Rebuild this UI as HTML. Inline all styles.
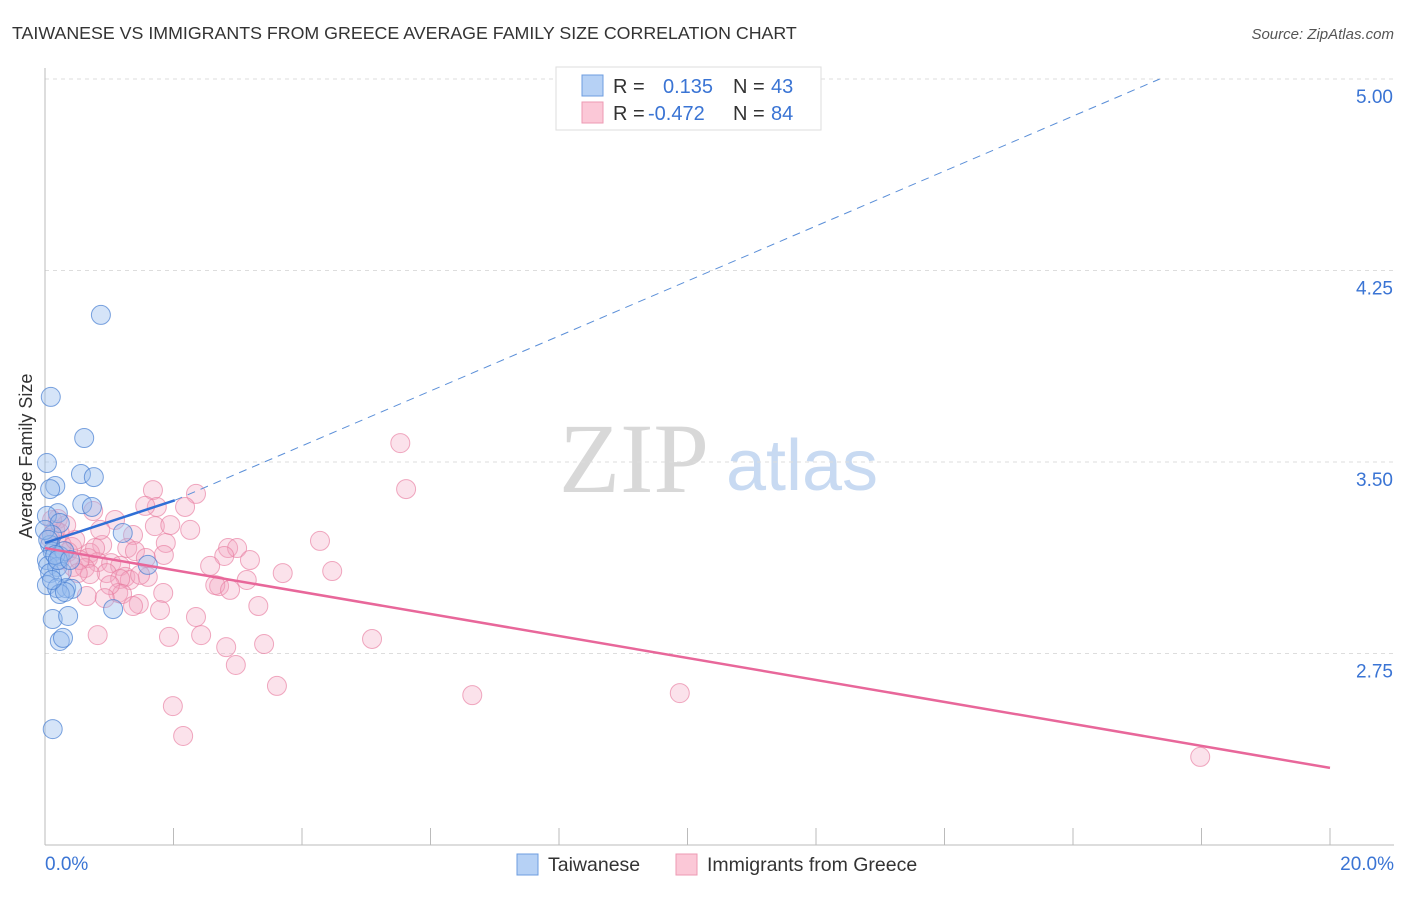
<!DOCTYPE html>
<html><head><meta charset="utf-8"><style>
body{margin:0;background:#fff;font-family:"Liberation Sans",sans-serif}
svg text{font-family:"Liberation Sans",sans-serif}
</style></head><body>
<svg id="chart" width="1406" height="892">
<text x="12" y="39" font-size="17.8" fill="#333">TAIWANESE VS IMMIGRANTS FROM GREECE AVERAGE FAMILY SIZE CORRELATION CHART</text>
<text x="1394" y="39" font-size="15" fill="#555" text-anchor="end" font-style="italic">Source: ZipAtlas.com</text>
<text x="32" y="456" font-size="18" fill="#333" text-anchor="middle" transform="rotate(-90 32 456)">Average Family Size</text>
<g><text x="634" y="492" font-size="100" fill="#d8d8d8" style="font-family:'Liberation Serif',serif" text-anchor="middle">ZIP</text><text x="802" y="490" font-size="72" fill="#c8daf2" text-anchor="middle">atlas</text></g>
<g id="grid"></g><g id="axes"></g><g id="pts"></g><g id="lines"></g>
<g>
<rect x="556" y="67" width="265" height="63" fill="#fff" stroke="#ddd"/>
<rect x="582" y="75" width="21" height="21" fill="#b6d1f5" stroke="#6d9de0"/>
<rect x="582" y="102" width="21" height="21" fill="#fbc8d7" stroke="#ec9ab3"/>
<text x="613" y="93" font-size="20" fill="#333">R =</text><text x="663" y="93" font-size="20" fill="#3a74d4">0.135</text>
<text x="733" y="93" font-size="20" fill="#333">N =</text><text x="771" y="93" font-size="20" fill="#3a74d4">43</text>
<text x="613" y="120" font-size="20" fill="#333">R =</text><text x="648" y="120" font-size="20" fill="#3a74d4">-0.472</text>
<text x="733" y="120" font-size="20" fill="#333">N =</text><text x="771" y="120" font-size="20" fill="#3a74d4">84</text>
</g>
<g>
<rect x="517" y="854" width="21" height="21" fill="#b6d1f5" stroke="#6d9de0"/>
<text x="548" y="871" font-size="19.5" fill="#333">Taiwanese</text>
<rect x="676" y="854" width="21" height="21" fill="#fbc8d7" stroke="#ec9ab3"/>
<text x="707" y="871" font-size="19.5" fill="#333">Immigrants from Greece</text>
</g>
</svg>
<script>
const yTicks=[5.00,4.25,3.50,2.75];
const xLabels=["0.0%","20.0%"];
const blueX=[.87,.09,.61,.03,.56,.76,.16,.08,.58,.73,.20,.03,.23,.11,1.21,.08,.12,.03,.23,.30,.05,.19,1.60,.08,.26,.03,.19,.33,.42,.23,.31,1.06,.12,.36,.23,.28,.12,0,.05,.16,.20,.11,.39];
const blueY=[4.076,3.755,3.594,3.496,3.453,3.441,3.406,3.394,3.335,3.324,3.300,3.289,3.261,3.214,3.222,3.175,3.148,3.116,3.132,3.151,3.093,3.089,3.097,3.065,3.069,3.018,3.006,3.006,3.003,2.983,2.991,2.924,2.885,2.897,2.799,2.811,2.454,3.234,3.195,3.136,3.116,3.038,3.116];
const pinkX=[5.53,5.62,1.68,2.35,1.74,2.18,1.56,.75,.20,1.09,1.71,.23,1.37,.08,.89,.42,1.28,4.28,1.88,2.85,2.99,.36,.70,1.40,1.85,1.57,2.79,.67,.82,1.03,1.17,2.57,.44,.62,3.70,4.47,.96,1.60,.70,1.25,3.14,2.71,2.65,1.32,1.17,1.84,1.14,1.20,.65,1.46,1.37,3.32,2.35,.82,1.93,2.43,5.09,3.41,2.82,2.97,3.61,6.65,9.88,1.99,2.15,17.98,.16,.26,.47,.54,.86,.23,.33,.11,1.01,1.48,.78,.51,3.19,1.95,2.26,.93,2.88,1.79];
const pinkY=[3.574,3.394,3.390,3.375,3.324,3.324,3.328,3.308,3.277,3.273,3.249,3.222,3.214,3.202,3.175,3.167,3.163,3.191,3.183,3.163,3.163,3.148,3.144,3.151,3.136,3.124,3.132,3.124,3.108,3.104,3.093,3.093,3.089,3.085,3.065,3.073,3.065,3.050,3.061,3.050,3.038,3.014,3.018,3.038,3.042,2.987,2.987,2.983,2.975,2.944,2.936,2.936,2.893,2.822,2.815,2.822,2.807,2.787,2.775,2.705,2.623,2.587,2.595,2.544,2.427,2.345,3.234,3.175,3.195,3.116,3.234,3.116,3.253,3.273,3.018,3.058,3.163,3.065,3.116,3.253,3.234,2.967,2.999,2.920];
const blueTrend=[0,3.183,2.02,3.35,17.35,5.0];
const pinkTrend=[0,3.163,20,2.302];
const X=v=>45+v/20*1285, Y=v=>79+(5-v)/0.75*191.5;
const NS="http://www.w3.org/2000/svg";
function mk(t,a,p){const e=document.createElementNS(NS,t);for(const k in a)e.setAttribute(k,a[k]);p.appendChild(e);return e;}
const grid=document.getElementById('grid'),axes=document.getElementById('axes'),pts=document.getElementById('pts'),lines=document.getElementById('lines');
yTicks.forEach(t=>{
 const l=mk('line',{x1:45,x2:1394,y1:Y(t),y2:Y(t),stroke:'#ddd','stroke-dasharray':'4,4'},grid);
 
 
 const tx=mk('text',{x:1393,y:Y(t)+24,'font-size':19,fill:'#3a74d4','text-anchor':'end'},grid);tx.textContent=t.toFixed(2);
 
 
});
const ax=mk('line',{x1:45,x2:45,y1:68,y2:845,stroke:'#bbb'},axes);


const bx=mk('line',{x1:45,x2:1394,y1:845,y2:845,stroke:'#bbb'},axes);


for(let i=0;i<=10;i++){const t=mk('line',{x1:X(i*2),x2:X(i*2),y1:828,y2:845,stroke:'#bbb'},axes);
 
 }
[[0,'start',45],[20,'end',1394]].forEach((d,i)=>{const t=mk('text',{x:d[2],y:870,'font-size':19,fill:'#3a74d4','text-anchor':d[1]},axes);t.textContent=xLabels[i];
 
 });
pinkX.forEach((v,i)=>{const c=mk('circle',{cx:X(v),cy:Y(pinkY[i]),r:9.5,fill:'rgba(244,165,192,0.32)',stroke:'rgba(232,125,160,0.65)','stroke-width':1},pts);
 
 });
blueX.forEach((v,i)=>{const c=mk('circle',{cx:X(v),cy:Y(blueY[i]),r:9.5,fill:'rgba(150,188,238,0.4)',stroke:'rgba(70,125,210,0.7)','stroke-width':1},pts);
 
 });
const b1=mk('line',{x1:X(blueTrend[0]),y1:Y(blueTrend[1]),x2:X(blueTrend[2]),y2:Y(blueTrend[3]),stroke:'#2f6fd6','stroke-width':2.5},lines);


const b2=mk('line',{x1:X(blueTrend[2]),y1:Y(blueTrend[3]),x2:X(blueTrend[4]),y2:Y(blueTrend[5]),stroke:'#5b8fd8','stroke-width':1,'stroke-dasharray':'8,6'},lines);


const p1=mk('line',{x1:X(pinkTrend[0]),y1:Y(pinkTrend[1]),x2:X(pinkTrend[2]),y2:Y(pinkTrend[3]),stroke:'#e8679a','stroke-width':2.5},lines);


</script>
</body></html>
